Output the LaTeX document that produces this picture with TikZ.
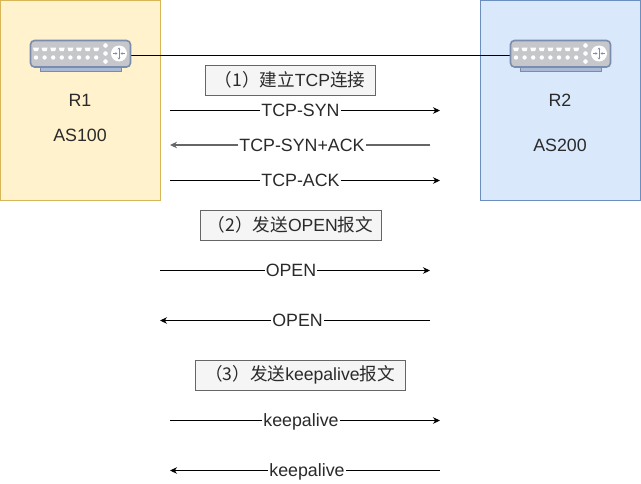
\documentclass[tikz,border=0pt]{standalone}
\usepackage{fontspec}
\setmainfont{Liberation Sans}
\newfontfamily\cjk{Noto Sans CJK SC}
\usetikzlibrary{arrows.meta}
\definecolor{ltext}{HTML}{2A2A2A}
\definecolor{rtline}{HTML}{7A8DAE}
\definecolor{rtbody}{HTML}{C6C7CB}
\definecolor{rtbase}{HTML}{A9B9D6}
\definecolor{asyellow}{HTML}{FFF2CC}
\definecolor{asyellowl}{HTML}{D6B656}
\definecolor{asblue}{HTML}{DAE8FC}
\definecolor{asbluel}{HTML}{6C8EBF}
\tikzset{
  title/.style={draw=black!60,fill=black!4,line width=0.8pt,text=ltext,font=\fontsize{17.6}{20}\selectfont,inner sep=0pt},
  lab/.style={text=ltext,font=\fontsize{17.8}{20}\selectfont,inner sep=1pt},
  msg/.style={fill=white,text height=14pt,text depth=2pt},
  rtbox/.style={minimum width=101pt,minimum height=31pt,inner sep=0pt},
  pics/router/.style={code={
    \draw[rtline,fill=rtbase,line width=0.9pt] (-40,12) rectangle (41,16);
    \draw[rtline,fill=rtbody,line width=1.6pt,rounded corners=4pt] (-50,-15) rectangle (50,11.5);
    \foreach \i in {0,...,7} {
      \fill[white] ({-47.5+8.6*\i},-8) -- ({-41.5+8.6*\i},-8) -- ({-42.5+8.6*\i},-4.5) -- ({-46.5+8.6*\i},-4.5) -- cycle;
      \fill[white] ({-44.5+8.6*\i},2) circle (2.2);
    }
    \foreach \j in {-10,-2,6} {
      \fill[white] (25,\j) circle (2.3);
    }
    \fill[white] (38.5,-2) circle (8);
    \draw[rtline,line width=0.7pt,<->,>={Stealth[length=2pt,width=2.5pt]}] (38.5,-8) -- (38.5,4);
    \draw[rtline,line width=0.7pt,->,>={Stealth[length=2pt,width=2.5pt]}] (32.5,-2) -- (37,-2);
    \draw[rtline,line width=0.7pt,->,>={Stealth[length=2pt,width=2.5pt]}] (44.5,-2) -- (40,-2);
  }}
}
\begin{document}
\begin{tikzpicture}[x=1pt,y=-1pt,>={Stealth[length=7pt,width=6.5pt]}]
   \useasboundingbox (0,0) rectangle (641,483);
   % the two systems
   \draw[fill=asyellow,draw=asyellowl,line width=0.8pt] (0.5,0.5) rectangle (160.5,200.5);
   \draw[fill=asblue,draw=asbluel,line width=0.8pt] (480.5,0.5) rectangle (640.5,200.5);
   \node[rtbox] (r1) at (80.5,55.5) {};
   \node[rtbox] (r2) at (560.5,55.5) {};
   \draw[black,line width=0.8pt] (r1.east) -- (r2.west);
   \pic at (r1) {router};
   \pic at (r2) {router};
   \node[lab] (r1name) at (80,100) {R1};
   \node[lab] (r1as)   at (80,135) {AS100};
   \node[lab] (r2name) at (560,100) {R2};
   \node[lab] (r2as)   at (560,145) {AS200};
   % titles
   \node[title,minimum width=170pt,minimum height=30pt] (step1) at (290,80) {{\cjk （1）建立}TCP{\cjk 连接}};
   \node[title,minimum width=181pt,minimum height=30pt] (step2) at (290.5,225) {{\cjk （2）发送}OPEN{\cjk 报文}};
   \node[title,minimum width=210pt,minimum height=30pt] (step3) at (300,375) {{\cjk （3）发送}keepalive{\cjk 报文}};
   % messages
   \foreach \n/\xa/\xb/\y/\lx/\txt/\c/\w in {
      syn/170/440/110.5/300.5/TCP-SYN/black/0.8pt,
      sack/430/170/145/302/TCP-SYN+ACK/black!60/1.1pt,
      ack/170/440/180.5/300.5/TCP-ACK/black/0.8pt,
      opa/160/430/270.5/291/OPEN/black/0.8pt,
      opb/430/160/320.5/297.5/OPEN/black/0.8pt,
      kaa/170/440/420.5/301/keepalive/black/0.8pt,
      kab/440/170/470.5/307/keepalive/black/0.8pt} {
     \coordinate (\n a) at (\xa,\y);
     \coordinate (\n b) at (\xb,\y);
     \draw[->,draw=\c,line width=\w] (\n a) -- (\n b);
     \node[lab,msg] (\n) at (\lx,\y) {\txt};
   }
\end{tikzpicture}
\end{document}
